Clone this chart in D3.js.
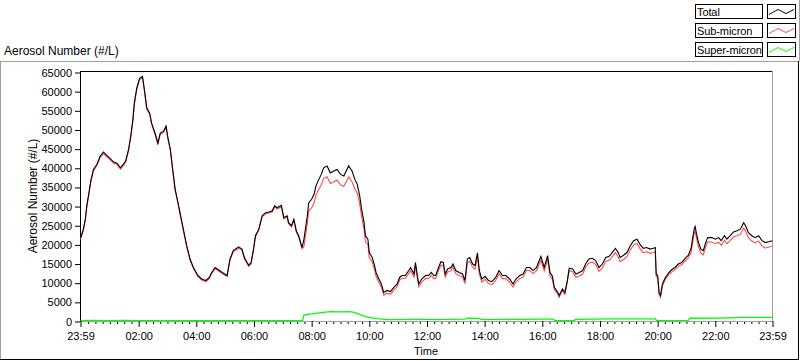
<!DOCTYPE html>
<html><head><meta charset="utf-8">
<script src="https://cdn.jsdelivr.net/npm/d3@7"></script>
<style>
body{margin:0;background:#fff;}
svg text{font-family:"Liberation Sans",Arial,sans-serif;fill:#000;}
</style></head><body>
<svg id="c" width="800" height="361"></svg>
<script>
// minutes after 23:59 (start of record)
const minutes = [0,6,10,13,17,22,27,34,41,48,55,62,69,76,83,89,94,100,105,109,112,117,123,129,133,138,144,148,155,161,166,173,178,182,187,191,197,203,207,214,221,228,235,244,252,261,268,273,280,287,295,305,311,318,329,336,341,350,355,360,364,371,378,385,392,399,404,409,418,423,430,433,439,444,449,454,461,465,468,472,475,481,486,490,496,501,506,513,520,527,534,541,548,553,558,565,571,576,581,585,590,593,598,601,607,612,615,621,626,631,638,645,652,659,664,669,676,683,687,694,697,701,704,710,718,725,730,735,739,745,750,755,759,764,771,775,781,788,795,800,805,810,816,821,826,830,835,842,849,856,864,871,878,885,893,900,906,914,921,928,935,942,949,953,958,965,972,977,982,986,993,996,1003,1008,1013,1017,1024,1031,1038,1045,1051,1058,1065,1072,1079,1086,1093,1100,1104,1113,1119,1123,1130,1137,1144,1151,1158,1164,1171,1178,1185,1192,1196,1198,1201,1204,1207,1211,1217,1224,1230,1237,1244,1251,1258,1265,1271,1273,1277,1279,1282,1286,1291,1296,1301,1305,1314,1321,1328,1333,1340,1345,1352,1359,1366,1373,1380,1384,1390,1397,1404,1411,1418,1425,1432,1440];
const totalValues = [21800,24100,26700,30100,33200,37100,39700,41000,43200,44200,43300,42500,41600,41300,40100,41000,41900,44900,48800,52700,57000,60900,63500,64000,60500,55700,54400,51800,49200,46600,49200,49700,51000,47900,44900,40600,34500,31000,28400,24100,19800,16300,14100,12100,11100,10700,11500,12800,14100,13500,12800,12000,16300,18500,19500,18900,16700,14700,15400,18900,22400,24100,27600,28400,28600,28900,30200,29700,30300,27100,27600,25800,25000,26700,23700,22400,19300,21500,24100,27600,31000,31900,33200,35400,37100,38400,40100,40600,38800,39300,39700,38400,38000,39300,40600,39300,37100,35800,32800,29300,25800,22400,21500,18000,16700,14600,12800,11100,9800,7600,8100,7800,8900,9800,11500,12000,12000,13300,14100,12400,15400,12000,9800,11100,12000,12100,12800,12000,12000,14100,15600,15400,12400,13700,14100,15000,13300,12800,12400,10700,16300,16700,15000,14600,17900,13300,11100,11800,10700,10400,11500,13300,12000,12000,11100,9800,11100,12000,12400,14100,14100,13300,14100,15400,17000,14100,17200,12800,11800,8900,7600,6800,8500,7600,10700,13900,13700,12400,12800,13300,15000,16300,16500,15900,14100,15000,16700,17000,17600,19100,18000,16700,17300,18000,19800,21100,21500,20200,19100,19300,18900,19100,19300,12400,12000,7600,6800,9800,11500,12700,13500,14100,15000,15400,16500,17300,19300,21100,24100,24800,22800,20600,18900,18500,20600,21900,21900,21500,21900,21100,22400,21500,22400,23400,23700,24100,25800,25000,23200,22400,21900,22400,21100,20600,20800,21100];
const subMicronValues = [21500,23800,26400,29800,32900,36800,39300,40700,42800,43800,43000,42200,41300,41000,39800,40700,41600,44600,48500,52400,56700,60500,63100,63600,60200,55400,54100,51500,48900,46200,48900,49400,50700,47600,44600,40300,34200,30700,28100,23800,19500,16000,13800,11800,10800,10400,11200,12500,13800,13200,12500,11700,16000,18200,19200,18600,16400,14400,15100,18600,22100,23800,27300,28100,28300,28600,29900,29400,29900,26800,27300,25500,24700,26400,23400,22100,19000,19600,22200,25600,28900,29700,30900,33000,34500,35700,37300,37800,36000,36500,36900,35700,35300,36500,37700,36500,34600,33500,30700,27400,24100,20800,20100,16700,15500,13500,11800,10200,9000,6900,7400,7100,8200,9100,10800,11300,11300,12500,13300,11600,14500,11200,9000,10300,11200,11300,12000,11200,11200,13300,14700,14600,11600,12900,13300,14200,12500,12000,11600,9900,15300,15700,14100,13700,16900,12400,10300,11000,9900,9600,10700,12500,11200,11200,10300,9000,10300,11200,11600,13300,13300,12500,13300,14500,16000,13200,16200,11900,11000,8400,7100,6300,8000,7100,10200,13300,13000,11500,11900,12400,14100,15300,15500,14900,13100,14000,15700,16000,16500,18000,16900,15600,16200,16900,18700,20000,20400,19100,18000,18200,17800,18000,18200,11800,11500,7100,6300,9300,11000,12200,12900,13500,14400,14800,15800,16600,18200,20000,23000,23600,21700,19500,17800,17400,19500,20800,20700,20300,20700,19900,21200,20300,21100,22100,22400,22800,24400,23600,21900,21000,20500,21000,19700,19200,19400,19700];
const superMinutes = [0,30,60,90,120,180,240,300,360,420,462,465,475,490,505,520,540,555,565,575,586,600,621,640,700,740,800,808,830,835,900,960,984,987,1027,1030,1100,1196,1199,1265,1268,1330,1380,1440];
const superMicronValues = [250,300,250,300,250,250,200,250,250,250,250,1700,1900,2100,2400,2600,2500,2600,2500,2100,1600,1100,700,500,550,500,600,850,800,500,550,600,600,250,250,550,700,700,250,300,850,900,1100,1100];
const yTicks = [0,5000,10000,15000,20000,25000,30000,35000,40000,45000,50000,55000,60000,65000];
const xTickLabels = ["23:59","02:00","04:00","06:00","08:00","10:00","12:00","14:00","16:00","18:00","20:00","22:00","23:59"];
const seriesNames = ["Total","Sub-micron","Super-micron"];
const seriesColors = ["#000000","#ff4a4a","#00ff00"];

const svg = d3.select("#c");
const x = d3.scaleLinear().domain([0,1440]).range([80.5,772.5]);
const y = d3.scaleLinear().domain([0,65000]).range([321.5,72.5]);

// outer panel bevel
svg.append("line").attr("x1",0).attr("x2",798).attr("y1",61.5).attr("y2",61.5).attr("stroke","#a0a0a0");
svg.append("line").attr("x1",0.5).attr("x2",0.5).attr("y1",61).attr("y2",360).attr("stroke","#a0a0a0");
svg.append("line").attr("x1",0).attr("x2",799).attr("y1",359.5).attr("y2",359.5).attr("stroke","#000");
svg.append("line").attr("x1",798.5).attr("x2",798.5).attr("y1",61).attr("y2",360).attr("stroke","#000");
svg.append("line").attr("x1",799.5).attr("x2",799.5).attr("y1",0).attr("y2",61).attr("stroke","#a0a0a0");

// title
svg.append("text").attr("x",4).attr("y",55).attr("font-size",12).text("Aerosol Number (#/L)");

// plot frame: top black, right gray
svg.append("line").attr("x1",80).attr("x2",773).attr("y1",71.5).attr("y2",71.5).attr("stroke","#000");
svg.append("line").attr("x1",772.5).attr("x2",772.5).attr("y1",71).attr("y2",322).attr("stroke","#a0a0a0");

// x axis minor ticks every 15 min
const majorMin = xTickLabels.map((s,i)=> i===0?0:(i===xTickLabels.length-1?1440:(+s.slice(0,2))*60+(+s.slice(3))+1));
const minorMin = d3.range(16,1440,15).filter(m=>!majorMin.includes(m));
const xMinor = svg.append("g").attr("transform","translate(0,321)")
  .call(d3.axisBottom(x).tickValues(minorMin).tickSize(3).tickSizeOuter(0).tickFormat(""));
xMinor.select(".domain").remove();
xMinor.selectAll("line").attr("stroke","#000");

const xAxis = svg.append("g").attr("transform","translate(0,321)")
  .call(d3.axisBottom(x).tickValues(majorMin).tickSize(6).tickSizeOuter(0).tickPadding(5)
    .tickFormat((d,i)=>xTickLabels[i]));
xAxis.select(".domain").attr("stroke","#a0a0a0").attr("d","M80,0.5H773");
xAxis.selectAll("line").attr("stroke","#000");
xAxis.selectAll("text").attr("font-size",11).attr("font-family","Liberation Sans, Arial, sans-serif").attr("fill","#000");

const yAxis = svg.append("g").attr("transform","translate(80,0)")
  .call(d3.axisLeft(y).tickValues(yTicks).tickSize(5).tickSizeOuter(0).tickPadding(3).tickFormat(d3.format("d")));
yAxis.select(".domain").attr("stroke","#000").attr("d","M0.5,71V322");
yAxis.selectAll("line").attr("stroke","#000");
yAxis.selectAll("text").attr("font-size",11).attr("font-family","Liberation Sans, Arial, sans-serif").attr("fill","#000");

// axis titles
svg.append("text").attr("transform","translate(37,196) rotate(-90)").attr("text-anchor","middle").attr("font-size",12).text("Aerosol Number (#/L)");
svg.append("text").attr("x",426).attr("y",355).attr("text-anchor","middle").attr("font-size",11).text("Time");

// data lines
const line = d3.line().x(d=>x(d[0])).y(d=>y(d[1])).curve(d3.curveLinear);
const plot = svg.append("g");
plot.append("path").datum(superMinutes.map((m,i)=>[m,superMicronValues[i]]))
  .attr("d",line).attr("fill","none").attr("stroke",seriesColors[2]).attr("stroke-width",1.3);
plot.append("path").datum(minutes.map((m,i)=>[m,subMicronValues[i]]))
  .attr("d",line).attr("fill","none").attr("stroke",seriesColors[1]).attr("stroke-width",1.1);
plot.append("path").datum(minutes.map((m,i)=>[m,totalValues[i]]))
  .attr("d",line).attr("fill","none").attr("stroke",seriesColors[0]).attr("stroke-width",1.1);

// legend
const leg = svg.append("g");
seriesNames.forEach((name,i)=>{
  const top = 4.5 + 19*i;
  leg.append("rect").attr("x",695.5).attr("y",top).attr("width",67).attr("height",14).attr("fill","#fff").attr("stroke","#000");
  leg.append("text").attr("x",697).attr("y",top+11.5).attr("font-size",11).attr("letter-spacing",-0.1).text(name);
  leg.append("rect").attr("x",767.5).attr("y",top).attr("width",28).attr("height",14).attr("fill","#fff").attr("stroke","#000");
  leg.append("polyline").attr("points",[[769,top+10],[778,top+5],[786,top+9],[794,top+5]].map(p=>p.join(",")).join(" "))
    .attr("fill","none").attr("stroke",seriesColors[i]);
});
</script>
</body></html>
